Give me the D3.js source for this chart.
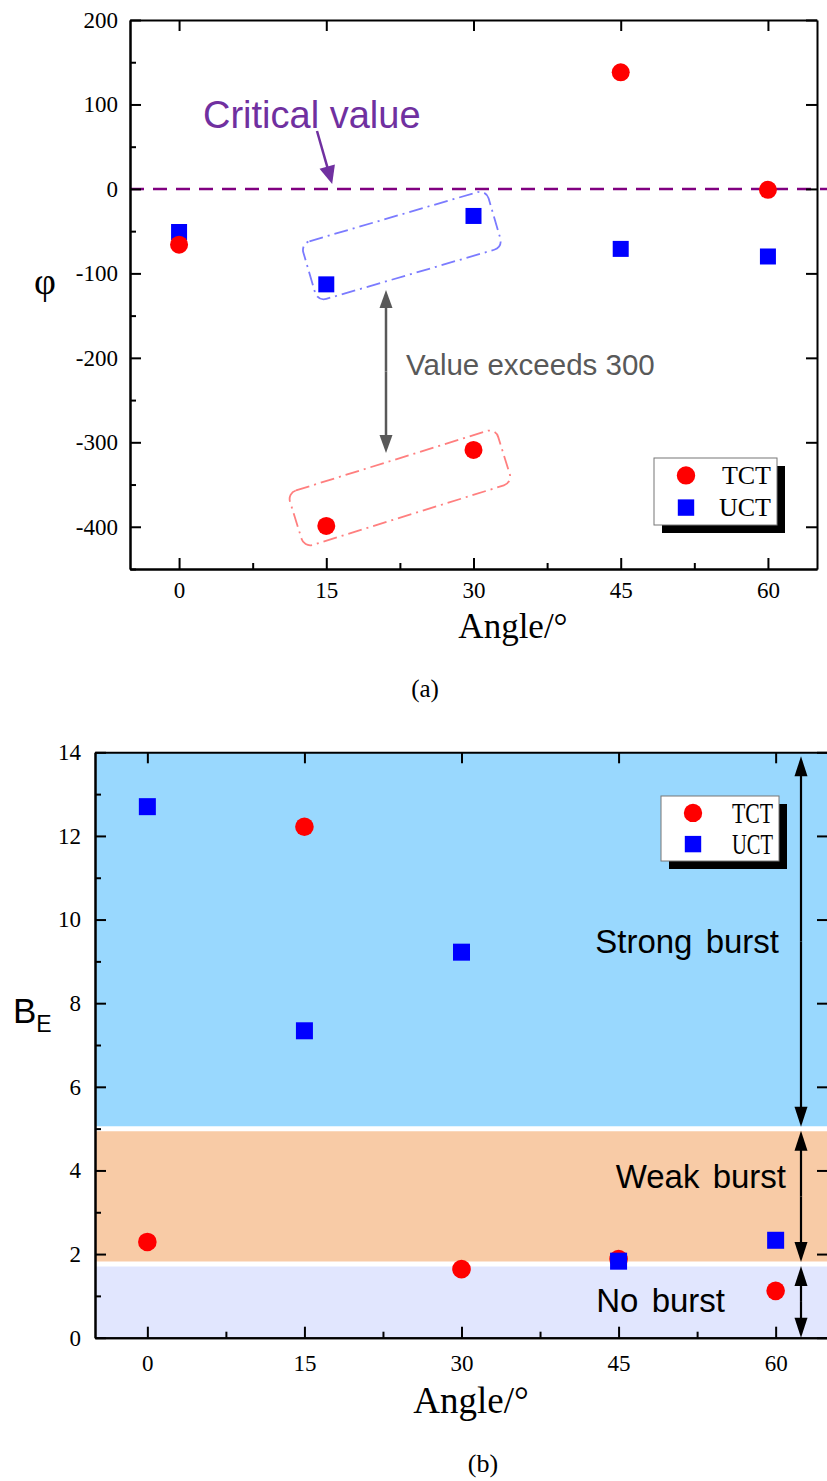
<!DOCTYPE html>
<html>
<head>
<meta charset="utf-8">
<script src="https://cdn.jsdelivr.net/npm/d3@7"></script>
<style>
  html, body { margin: 0; padding: 0; background: #fff; }
  svg { display: block; }
</style>
</head>
<body>
<svg id="fig" width="827" height="1481"></svg>
<script>
// ---- data ----
const angles = [0, 15, 30, 45, 60];
const angleTicks = [0, 15, 30, 45, 60];
const angleMinor = [7.5, 22.5, 37.5, 52.5];

// panel (a): burst index phi
const phiTCT = [-66, -399, -309, 138, -1];
const phiUCT = [-51, -113, -32, -71, -80];
const phiTicks = [-400, -300, -200, -100, 0, 100, 200];
const phiMinor = [-450, -350, -250, -150, -50, 50, 150];
const phiCritical = 0;

// panel (b): energy burst index B_E
const beTCT = [2.29, 12.22, 1.64, 1.88, 1.12];
const beUCT = [12.70, 7.34, 9.22, 1.83, 2.33];
const beTicks = [0, 2, 4, 6, 8, 10, 12, 14];
const beMinor = [1, 3, 5, 7, 9, 11, 13];
const zoneNames = ["No burst", "Weak burst", "Strong burst"];
const zoneLimits = [0, 1.76, 5, 14];

const seriesNames = ["TCT", "UCT"];

// ---- styles ----
const SERIF = "'Liberation Serif', 'Times New Roman', serif";
const SANS = "'Liberation Sans', Arial, sans-serif";
const RED = "#ff0000", BLUE = "#0000ff";
const zoneColors = ["#e1e6fe", "#f8cba6", "#99d8fe"];
const plainNumber = d => String(d);   // keeps the ASCII hyphen for negatives

const svg = d3.select("#fig");

function styleAxis(g, showLabels, fontSize) {
  g.select(".domain").attr("stroke", "#000").attr("stroke-width", 2);
  g.selectAll(".tick line").attr("stroke", "#000").attr("stroke-width", 2);
  g.selectAll(".tick text")
    .attr("font-family", SERIF).attr("font-size", fontSize).attr("fill", "#000");
  if (!showLabels) g.selectAll(".tick text").remove();
}

// filled arrowhead pointing from (x1,y1) to (x2,y2), with shaft
function arrow(g, x1, y1, x2, y2, color, width, len, half) {
  const dx = x2 - x1, dy = y2 - y1, L = Math.hypot(dx, dy);
  const ux = dx / L, uy = dy / L;
  const bx = x2 - ux * len, by = y2 - uy * len;
  g.append("line").attr("x1", x1).attr("y1", y1).attr("x2", bx + ux * 2).attr("y2", by + uy * 2)
    .attr("stroke", color).attr("stroke-width", width);
  g.append("path")
    .attr("d", `M${x2},${y2}L${bx - uy * half},${by + ux * half}L${bx + uy * half},${by - ux * half}Z`)
    .attr("fill", color);
}

function doubleArrow(g, x, yTop, yBot, color, width, len, half) {
  const mid = (yTop + yBot) / 2;
  arrow(g, x, mid, x, yTop, color, width, len, half);
  arrow(g, x, mid, x, yBot, color, width, len, half);
}

function drawAxes(g, x, y, yTicks, yMinor, yPad, xPad, fontSize) {
  const [x0, x1] = x.range();
  const [y0, y1] = y.range();
  // bottom
  g.append("g").attr("transform", `translate(0,${y0})`)
    .call(d3.axisBottom(x).tickValues(angleMinor).tickSize(-6).tickFormat("").tickSizeOuter(0))
    .call(a => styleAxis(a, false));
  g.append("g").attr("transform", `translate(0,${y0})`)
    .call(d3.axisBottom(x).tickValues(angleTicks).tickSize(-11).tickPadding(xPad).tickFormat(plainNumber).tickSizeOuter(0))
    .call(a => styleAxis(a, true, fontSize));
  // top
  g.append("g").attr("transform", `translate(0,${y1})`)
    .call(d3.axisTop(x).tickValues(angleTicks).tickSize(-11).tickSizeOuter(0))
    .call(a => styleAxis(a, false));
  // left
  g.append("g").attr("transform", `translate(${x0},0)`)
    .call(d3.axisLeft(y).tickValues(yMinor).tickSize(-6).tickFormat("").tickSizeOuter(0))
    .call(a => styleAxis(a, false));
  g.append("g").attr("transform", `translate(${x0},0)`)
    .call(d3.axisLeft(y).tickValues(yTicks).tickSize(-11).tickPadding(yPad).tickFormat(plainNumber).tickSizeOuter(0))
    .call(a => styleAxis(a, true, fontSize));
  // right
  g.append("g").attr("transform", `translate(${x1},0)`)
    .call(d3.axisRight(y).tickValues(yTicks).tickSize(-11).tickSizeOuter(0))
    .call(a => styleAxis(a, false));
}

function drawPoints(g, x, y, values, kind, r) {
  if (kind === "circle") {
    g.append("g").selectAll("circle").data(values).join("circle")
      .attr("cx", (d, i) => x(angles[i])).attr("cy", d => y(d))
      .attr("r", r).attr("fill", RED);
  } else {
    g.append("g").selectAll("rect").data(values).join("rect")
      .attr("x", (d, i) => x(angles[i]) - r).attr("y", d => y(d) - r)
      .attr("width", 2 * r).attr("height", 2 * r).attr("fill", BLUE);
  }
}

function legend(g, left, top, w, h, textLen, fs) {
  g.append("rect").attr("x", left + 8).attr("y", top + 8).attr("width", w).attr("height", h).attr("fill", "#000");
  g.append("rect").attr("x", left).attr("y", top).attr("width", w).attr("height", h)
    .attr("fill", "#fff").attr("stroke", "#777").attr("stroke-width", 1);
  const rowH = h / 2;
  const mx = left + 32;
  g.append("circle").attr("cx", mx).attr("cy", top + rowH * 0.52).attr("r", 9.2).attr("fill", RED);
  g.append("rect").attr("x", mx - 8.2).attr("y", top + rowH * 1.48 - 8.2).attr("width", 16.4).attr("height", 16.4).attr("fill", BLUE);
  seriesNames.forEach((s, i) => {
    const t = g.append("text").attr("x", left + w - 6).attr("y", top + rowH * (0.52 + 0.96 * i) + fs * 0.34)
      .attr("text-anchor", "end").attr("font-family", SERIF).attr("font-size", fs).text(s);
    if (textLen) t.attr("textLength", textLen).attr("lengthAdjust", "spacingAndGlyphs");
  });
}

// ================= panel (a) =================
{
  const x = d3.scaleLinear([-5, 65], [130, 817]);
  const y = d3.scaleLinear([-450, 200], [569, 20]);
  const g = svg.append("g");

  // critical value line
  g.append("line").attr("x1", x(-5)).attr("x2", 827).attr("y1", y(phiCritical)).attr("y2", y(phiCritical))
    .attr("stroke", "#800080").attr("stroke-width", 2.5).attr("stroke-dasharray", "14,9");

  // grouping boxes around the 15° / 30° points
  const boxes = [
    { cx: 22.7, cy: -67, w: 193, h: 60, angle: -16.3, color: "#7b7bff" },
    { cx: 22.5, cy: -354, w: 218, h: 57, angle: -17.3, color: "#ff7f7f" }
  ];
  boxes.forEach(b => {
    g.append("rect")
      .attr("x", -b.w / 2).attr("y", -b.h / 2).attr("width", b.w).attr("height", b.h)
      .attr("rx", 9).attr("ry", 9)
      .attr("transform", `translate(${x(b.cx)},${y(b.cy)}) rotate(${b.angle})`)
      .attr("fill", "none").attr("stroke", b.color).attr("stroke-width", 1.8)
      .attr("stroke-dasharray", "14,5,2,5");
  });

  drawAxes(g, x, y, phiTicks, phiMinor, 12, 13, 23);

  drawPoints(g, x, y, phiUCT, "square", 8);
  drawPoints(g, x, y, phiTCT, "circle", 9);

  // annotations
  g.append("text").attr("x", 203).attr("y", 128).attr("font-family", SANS).attr("font-size", 38)
    .attr("fill", "#7030a0").text("Critical value");
  arrow(g, 317, 131, x(15.6), y(phiCritical) - 5, "#7030a0", 2.5, 18, 8);

  doubleArrow(g, 386, 290, 453, "#595959", 2.5, 18, 6.5);
  g.append("text").attr("x", 406).attr("y", 375).attr("font-family", SANS).attr("font-size", 29.5)
    .attr("fill", "#595959").text("Value exceeds 300");

  legend(g, 654, 458, 123, 67, null, 26);

  g.append("text").attr("x", 45).attr("y", 294).attr("text-anchor", "middle")
    .attr("font-family", SERIF).attr("font-size", 38).text("φ");
  g.append("text").attr("x", 513).attr("y", 638).attr("text-anchor", "middle")
    .attr("font-family", SERIF).attr("font-size", 35).text("Angle/°");
  g.append("text").attr("x", 425).attr("y", 697).attr("text-anchor", "middle")
    .attr("font-family", SERIF).attr("font-size", 25).text("(a)");
}

// ================= panel (b) =================
{
  const x = d3.scaleLinear([-5, 65], [95, 828]);
  const y = d3.scaleLinear([0, 14], [1337.7, 752.3]);
  const g = svg.append("g");

  // burst zones
  zoneNames.forEach((name, i) => {
    g.append("rect").attr("x", x(-5)).attr("width", x(65) - x(-5))
      .attr("y", y(zoneLimits[i + 1])).attr("height", y(zoneLimits[i]) - y(zoneLimits[i + 1]))
      .attr("fill", zoneColors[i]);
  });
  [zoneLimits[1], zoneLimits[2]].forEach(v => {
    g.append("line").attr("x1", x(-5)).attr("x2", x(65)).attr("y1", y(v)).attr("y2", y(v))
      .attr("stroke", "#fff").attr("stroke-width", 5);
  });

  drawAxes(g, x, y, beTicks, beMinor, 14, 17, 23);

  drawPoints(g, x, y, beTCT, "circle", 9.3);
  drawPoints(g, x, y, beUCT, "square", 8.5);

  legend(g, 661, 796, 118, 65, 41, 29);

  // zone extents
  const ax = 801;
  doubleArrow(g, ax, y(zoneLimits[3]) + 4, y(zoneLimits[2]) - 2, "#000", 2.2, 20, 6.5);
  doubleArrow(g, ax, y(zoneLimits[2]) + 2, y(zoneLimits[1]) - 2, "#000", 2.2, 20, 6.5);
  doubleArrow(g, ax, y(zoneLimits[1]) + 2, y(zoneLimits[0]), "#000", 2.2, 20, 6.5);

  const zoneText = [
    { name: zoneNames[2], x: 779, y: 953 },
    { name: zoneNames[1], x: 786, y: 1188 },
    { name: zoneNames[0], x: 725, y: 1312 }
  ];
  zoneText.forEach(t => {
    g.append("text").attr("x", t.x).attr("y", t.y).attr("text-anchor", "end")
      .attr("font-family", SANS).attr("font-size", 33).attr("word-spacing", 4).text(t.name);
  });

  const yl = g.append("text").attr("x", 13).attr("y", 1023).attr("font-family", SANS).attr("font-size", 35);
  yl.append("tspan").text("B");
  yl.append("tspan").attr("font-size", 23).attr("dy", 9).text("E");

  g.append("text").attr("x", 471).attr("y", 1413).attr("text-anchor", "middle")
    .attr("font-family", SERIF).attr("font-size", 37).text("Angle/°");
  g.append("text").attr("x", 483).attr("y", 1472).attr("text-anchor", "middle")
    .attr("font-family", SERIF).attr("font-size", 26).text("(b)");
}
</script>
</body>
</html>
